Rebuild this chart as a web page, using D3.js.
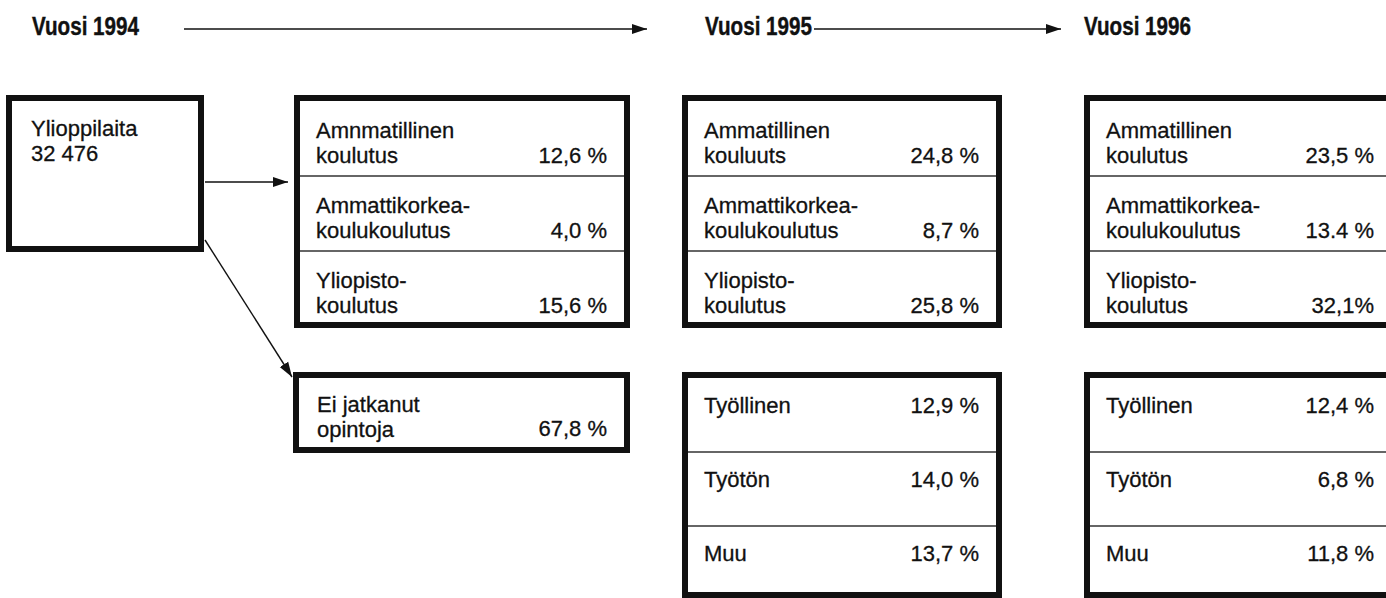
<!DOCTYPE html>
<html>
<head>
<meta charset="utf-8">
<script src="https://cdn.jsdelivr.net/npm/d3@7"></script>
<style>
  body { margin: 0; background: #fff; }
  svg { display: block; }
  .head { font-family: "Liberation Sans", Arial, sans-serif; font-weight: bold; font-size: 25px; fill: #111; stroke: #111; stroke-width: 0.4; }
  .lbl { font-family: "Liberation Sans", Arial, sans-serif; font-size: 22px; fill: #111; stroke: #111; stroke-width: 0.3; }
</style>
</head>
<body>
<div class="chart"></div>
<script>
// years across the top
var years = ["Vuosi 1994", "Vuosi 1995", "Vuosi 1996"];

// starting group
var startLabel = ["Ylioppilaita", "32 476"];

// education rows (the typos are in the original)
var eduLabels1994 = [["Amnmatillinen", "koulutus"], ["Ammattikorkea-", "koulukoulutus"], ["Yliopisto-", "koulutus"]];
var eduLabels1995 = [["Ammatillinen", "kouluuts"], ["Ammattikorkea-", "koulukoulutus"], ["Yliopisto-", "koulutus"]];
var eduLabels1996 = [["Ammatillinen", "koulutus"], ["Ammattikorkea-", "koulukoulutus"], ["Yliopisto-", "koulutus"]];
var edu1994 = ["12,6 %", "4,0 %", "15,6 %"];
var edu1995 = ["24,8 %", "8,7 %", "25,8 %"];
var edu1996 = ["23,5 %", "13.4 %", "32,1%"];

// not continuing
var stopLabel = ["Ei jatkanut", "opintoja"];
var stop1994 = "67,8 %";

// work rows
var workLabels = ["Työllinen", "Työtön", "Muu"];
var work1995 = ["12,9 %", "14,0 %", "13,7 %"];
var work1996 = ["12,4 %", "6,8 %", "11,8 %"];

var svgWidth = 1386;
var svgHeight = 598;
var border = 6;

var svg = d3.select(".chart")
  .append("svg")
  .attr("width", svgWidth)
  .attr("height", svgHeight);

svg.append("defs").append("marker")
  .attr("id", "head")
  .attr("markerUnits", "userSpaceOnUse")
  .attr("viewBox", "0 -6 15 12")
  .attr("markerWidth", 15)
  .attr("markerHeight", 12)
  .attr("refX", 15)
  .attr("refY", 0)
  .attr("orient", "auto")
  .append("path")
  .attr("d", "M0,-5L15,0L0,5Z")
  .attr("fill", "#111");

// column left edges and widths
var colX = d3.scaleOrdinal()
  .domain(["start", "y1994", "y1995", "y1996"])
  .range([6, 294, 682, 1084]);
var colW = d3.scaleOrdinal()
  .domain(["start", "y1994", "y1995", "y1996"])
  .range([198, 336, 320, 313]);

// header x positions
var headX = d3.scaleOrdinal().domain(years).range([32, 705, 1084]);

// rows inside the boxes
var eduRow = d3.scaleBand().domain([0, 1, 2]).range([101, 326]);
var workRow = d3.scaleBand().domain([0, 1, 2]).range([378, 600]);

// headers, squeezed to the condensed width of the original type
var heads = svg.selectAll(".head")
  .data(years)
  .enter()
  .append("text")
  .attr("class", "head")
  .text(d => d);

heads.each(function(d) {
  var w = this.getComputedTextLength();
  var k = 107 / w;
  d3.select(this).attr("transform", `translate(${headX(d)},35) scale(${k},1)`);
});

function arrow(x1, y1, x2, y2) {
  svg.append("line")
    .attr("x1", x1).attr("y1", y1)
    .attr("x2", x2).attr("y2", y2)
    .attr("stroke", "#111")
    .attr("stroke-width", 1.4)
    .attr("marker-end", "url(#head)");
}

arrow(184, 29, 647, 29);
arrow(814, 29, 1061, 29);

function box(x, y, w, h) {
  svg.append("rect")
    .attr("x", x + border / 2)
    .attr("y", y + border / 2)
    .attr("width", w - border)
    .attr("height", h - border)
    .attr("fill", "none")
    .attr("stroke", "#111")
    .attr("stroke-width", border);
}

function twoLines(x, y, lines) {
  var t = svg.append("text").attr("class", "lbl").attr("x", x).attr("y", y);
  lines.forEach(function(l, i) {
    t.append("tspan").attr("x", x).attr("dy", i === 0 ? 0 : 24.5).text(l);
  });
}

function valueText(x, y, v) {
  svg.append("text")
    .attr("class", "lbl")
    .attr("x", x)
    .attr("y", y)
    .attr("text-anchor", "end")
    .text(v);
}

function dividers(col, rowScale) {
  var x0 = colX(col) + border;
  var x1 = colX(col) + colW(col) - border;
  rowScale.domain().slice(1).forEach(function(i) {
    svg.append("line")
      .attr("x1", x0).attr("x2", x1)
      .attr("y1", rowScale(i)).attr("y2", rowScale(i))
      .attr("stroke", "#333")
      .attr("stroke-width", 1.3);
  });
}

// start box
box(colX("start"), 95, colW("start"), 157);
twoLines(colX("start") + 25, 136, startLabel);

// education boxes
function eduBox(col, labels, values) {
  box(colX(col), 95, colW(col), 233);
  dividers(col, eduRow);
  labels.forEach(function(l, i) {
    twoLines(colX(col) + 22, eduRow(i) + 37, l);
    valueText(colX(col) + colW(col) - 23, eduRow(i) + 62, values[i]);
  });
}

eduBox("y1994", eduLabels1994, edu1994);
eduBox("y1995", eduLabels1995, edu1995);
eduBox("y1996", eduLabels1996, edu1996);

// not continued
box(colX("y1994") - 1, 372, colW("y1994") + 1, 81);
twoLines(colX("y1994") + 23, 412, stopLabel);
valueText(colX("y1994") + colW("y1994") - 23, 436, stop1994);

// work boxes
function workBox(col, values) {
  box(colX(col), 372, colW(col), 226);
  dividers(col, workRow);
  workLabels.forEach(function(l, i) {
    svg.append("text")
      .attr("class", "lbl")
      .attr("x", colX(col) + 22)
      .attr("y", workRow(i) + 35)
      .text(l);
    valueText(colX(col) + colW(col) - 23, workRow(i) + 35, values[i]);
  });
}

workBox("y1995", work1995);
workBox("y1996", work1996);

// flow arrows out of the start box
arrow(205, 182, 288, 182);
arrow(205, 240, 292, 377);
</script>
</body>
</html>
